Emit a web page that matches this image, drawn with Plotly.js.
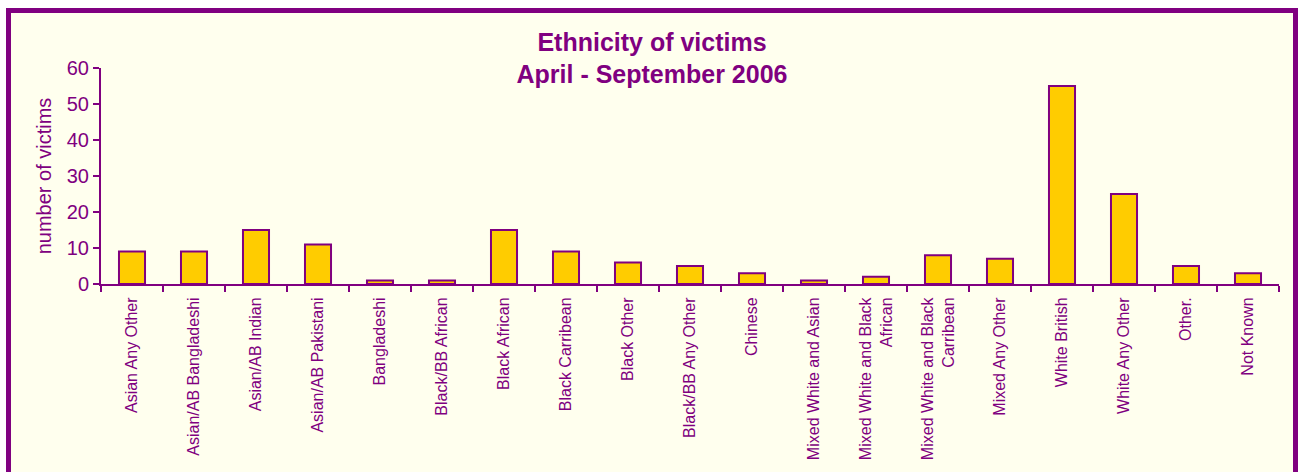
<!DOCTYPE html>
<html>
<head>
<meta charset="utf-8">
<script src="https://cdn.plot.ly/plotly-3.0.1.min.js"></script>
<style>
  html, body { margin: 0; padding: 0; background: #ffffff; overflow: hidden; }
  #frame { position: absolute; left: 6px; top: 8px; width: 1282px; height: 480px;
           border: 5px solid #800080; background: #FFFFEE; }
  #chart { width: 1282px; height: 480px; }
</style>
</head>
<body>
<div id="frame"><div id="chart"></div></div>
<script>
const categories = [
  "Asian Any Other", "Asian/AB Bangladeshi", "Asian/AB Indian", "Asian/AB Pakistani",
  "Bangladeshi", "Black/BB African", "Black African", "Black Carribean", "Black Other",
  "Black/BB Any Other", "Chinese", "Mixed White and Asian",
  "Mixed White and Black<br>African", "Mixed White and Black<br>Carribean",
  "Mixed Any Other", "White British", "White Any Other", "Other.", "Not Known"
];
const victims = [9, 9, 15, 11, 1, 1, 15, 9, 6, 5, 3, 1, 2, 8, 7, 55, 25, 5, 3];
const yTicks = [0, 10, 20, 30, 40, 50, 60];

const purple = "#800080";
const font = "Liberation Sans, Arial, sans-serif";

const trace = {
  type: "bar",
  x: categories,
  y: victims,
  width: 0.42,
  marker: { color: "#FFCC00", line: { color: purple, width: 2 } },
  hoverinfo: "x+y"
};

const layout = {
  width: 1282, height: 480,
  margin: { l: 90, r: 14, t: 55, b: 209 },
  paper_bgcolor: "#FFFFEE",
  plot_bgcolor: "#FFFFEE",
  showlegend: false,
  font: { family: font, color: purple },
  title: {
    text: "<b>Ethnicity of victims<br>April - September 2006</b>",
    font: { family: font, size: 25, color: purple },
    x: 0.5, xref: "container", xanchor: "center",
    y: 0.921, yref: "container", yanchor: "top"
  },
  xaxis: {
    type: "category",
    tickangle: -90,
    tickfont: { family: font, size: 16, color: purple },
    ticklabelstandoff: 5,
    automargin: false,
    showline: true, linecolor: purple, linewidth: 2,
    ticks: "outside", tickson: "boundaries", ticklen: 6, tickwidth: 2, tickcolor: purple,
    showgrid: false, zeroline: false,
    range: [-0.5, categories.length - 0.5]
  },
  yaxis: {
    range: [0, 60],
    tickvals: yTicks,
    ticktext: yTicks.map(String),
    tickfont: { family: font, size: 20, color: purple },
    automargin: false,
    showline: true, linecolor: purple, linewidth: 2,
    ticks: "outside", ticklen: 6, tickwidth: 2, tickcolor: purple,
    showgrid: false, zeroline: false,
    title: { text: "number of victims", font: { family: font, size: 20, color: purple }, standoff: 10 }
  }
};

Plotly.newPlot("chart", [trace], layout, { displayModeBar: false, staticPlot: true });
</script>
</body>
</html>
